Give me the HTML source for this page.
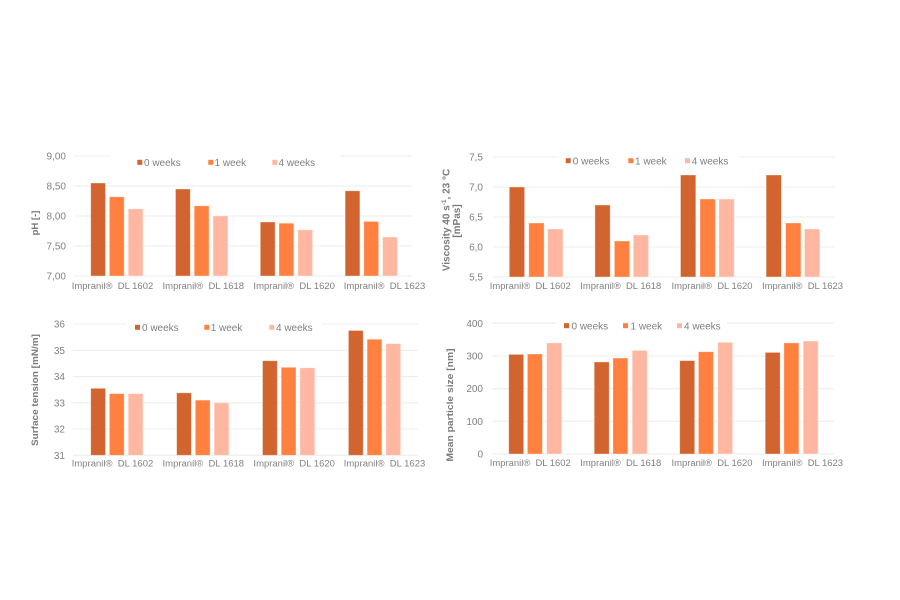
<!DOCTYPE html>
<html><head><meta charset="utf-8"><style>
html,body{margin:0;padding:0;background:#fff;}
svg{display:block;font-family:"Liberation Sans",Arial,sans-serif;}
.t{font-size:10px;fill:#808080;}
.x{font-size:9px;fill:#808080;}
.a{font-size:9.5px;fill:#7a7a7a;font-weight:bold;}
.g{stroke:#ececec;stroke-width:1;}
.d{fill:#D2652F;} .m{fill:#FF803F;} .l{fill:#FFB7A2;}
rect.b{stroke:#fff;stroke-opacity:.45;stroke-width:.8;}
</style></head><body>
<svg width="900" height="600" viewBox="0 0 900 600" xmlns="http://www.w3.org/2000/svg">
<rect width="900" height="600" fill="#fff"/>

<!-- ============ Chart 1: pH ============ -->
<g>
<line class="g" x1="74" y1="156" x2="412" y2="156"/>
<line class="g" x1="74" y1="186" x2="412" y2="186"/>
<line class="g" x1="74" y1="216" x2="412" y2="216"/>
<line class="g" x1="74" y1="246" x2="412" y2="246"/>
<line class="g" x1="74" y1="276" x2="412" y2="276"/>
<g class="t" text-anchor="end">
<text x="66" y="159.5">9,00</text><text x="66" y="189.5">8,50</text><text x="66" y="219.5">8,00</text><text x="66" y="249.5">7,50</text><text x="66" y="279.5">7,00</text>
</g>
<text class="a" transform="translate(38,223) rotate(-90)" text-anchor="middle">pH [-]</text>
<rect class="d b" x="90.7" y="183" width="14.8" height="93"/>
<rect class="m b" x="109.4" y="196.8" width="14.8" height="79.2"/>
<rect class="l b" x="128.2" y="208.8" width="14.8" height="67.2"/>
<rect class="d b" x="175.5" y="189" width="14.8" height="87"/>
<rect class="m b" x="194.2" y="205.8" width="14.8" height="70.2"/>
<rect class="l b" x="213" y="216" width="14.8" height="60"/>
<rect class="d b" x="260.3" y="222" width="14.8" height="54"/>
<rect class="m b" x="279" y="223.2" width="14.8" height="52.8"/>
<rect class="l b" x="297.8" y="229.8" width="14.8" height="46.2"/>
<rect class="d b" x="345.1" y="190.8" width="14.8" height="85.2"/>
<rect class="m b" x="363.8" y="221.4" width="14.8" height="54.6"/>
<rect class="l b" x="382.6" y="237" width="14.8" height="39"/>
<rect x="111" y="150" width="229" height="14" fill="#fff"/>
<rect class="d" x="137.3" y="159.8" width="5" height="5"/><text class="t" x="144" y="166">0 weeks</text>
<rect class="m" x="208.3" y="159.8" width="5" height="5"/><text class="t" x="214.5" y="166">1 week</text>
<rect class="l" x="272.3" y="159.8" width="5" height="5"/><text class="t" x="278.5" y="166">4 weeks</text>
<g class="x" text-anchor="middle">
<text x="112.5" y="288.8" textLength="81.5" lengthAdjust="spacingAndGlyphs">Impranil®&#160; DL 1602</text>
<text x="203.3" y="288.8" textLength="81.5" lengthAdjust="spacingAndGlyphs">Impranil®&#160; DL 1618</text>
<text x="294.2" y="288.8" textLength="81.5" lengthAdjust="spacingAndGlyphs">Impranil®&#160; DL 1620</text>
<text x="384.5" y="288.8" textLength="81.5" lengthAdjust="spacingAndGlyphs">Impranil®&#160; DL 1623</text>
</g>
</g>

<!-- ============ Chart 2: Viscosity ============ -->
<g>
<line class="g" x1="493" y1="157" x2="835" y2="157"/>
<line class="g" x1="493" y1="187" x2="835" y2="187"/>
<line class="g" x1="493" y1="217" x2="835" y2="217"/>
<line class="g" x1="493" y1="247" x2="835" y2="247"/>
<line class="g" x1="493" y1="277" x2="835" y2="277"/>
<g class="t" text-anchor="end">
<text x="483" y="160.5">7,5</text><text x="483" y="190.5">7,0</text><text x="483" y="220.5">6,5</text><text x="483" y="250.5">6,0</text><text x="483" y="280.5">5,5</text>
</g>
<text class="a" style="font-size:10px" transform="translate(449.5,220) rotate(-90)" text-anchor="middle">Viscosity 40 s<tspan font-size="6.5" dy="-3.5">-1</tspan><tspan dy="3.5">,&#160;23 °C</tspan></text>
<text class="a" style="font-size:10px" transform="translate(460,221) rotate(-90)" text-anchor="middle">[mPas]</text>
<rect class="d b" x="509.3" y="187" width="15.3" height="90"/>
<rect class="m b" x="528.8" y="223" width="15.3" height="54"/>
<rect class="l b" x="547.7" y="229" width="15.3" height="48"/>
<rect class="d b" x="594.9" y="205" width="15.3" height="72"/>
<rect class="m b" x="614.4" y="241" width="15.3" height="36"/>
<rect class="l b" x="633.3" y="235" width="15.3" height="42"/>
<rect class="d b" x="680.5" y="175" width="15.3" height="102"/>
<rect class="m b" x="700" y="199" width="15.3" height="78"/>
<rect class="l b" x="718.9" y="199" width="15.3" height="78"/>
<rect class="d b" x="766.1" y="175" width="15.3" height="102"/>
<rect class="m b" x="785.6" y="223" width="15.3" height="54"/>
<rect class="l b" x="804.5" y="229" width="15.3" height="48"/>
<rect x="557" y="150" width="182" height="13" fill="#fff"/>
<rect class="d" x="565.7" y="158.2" width="5" height="5"/><text class="t" x="572.8" y="164.4">0 weeks</text>
<rect class="m" x="628.3" y="158.2" width="5" height="5"/><text class="t" x="635" y="164.4">1 week</text>
<rect class="l" x="685" y="158.2" width="5" height="5"/><text class="t" x="691.7" y="164.4">4 weeks</text>
<g class="x" text-anchor="middle">
<text x="530.3" y="288.8" textLength="81" lengthAdjust="spacingAndGlyphs">Impranil®&#160; DL 1602</text>
<text x="620.8" y="288.8" textLength="81" lengthAdjust="spacingAndGlyphs">Impranil®&#160; DL 1618</text>
<text x="712" y="288.8" textLength="81" lengthAdjust="spacingAndGlyphs">Impranil®&#160; DL 1620</text>
<text x="802.5" y="288.8" textLength="81" lengthAdjust="spacingAndGlyphs">Impranil®&#160; DL 1623</text>
</g>
</g>

<!-- ============ Chart 3: Surface tension ============ -->
<g>
<line class="g" x1="73" y1="324" x2="418" y2="324"/>
<line class="g" x1="73" y1="350.3" x2="418" y2="350.3"/>
<line class="g" x1="73" y1="376.5" x2="418" y2="376.5"/>
<line class="g" x1="73" y1="402.8" x2="418" y2="402.8"/>
<line class="g" x1="73" y1="429" x2="418" y2="429"/>
<line class="g" x1="73" y1="455.3" x2="418" y2="455.3"/>
<g class="t" text-anchor="end">
<text x="65" y="327.5">36</text><text x="65" y="353.8">35</text><text x="65" y="380">34</text><text x="65" y="406.3">33</text><text x="65" y="432.5">32</text><text x="65" y="458.8">31</text>
</g>
<text class="a" transform="translate(38,390) rotate(-90)" text-anchor="middle" textLength="112" lengthAdjust="spacingAndGlyphs">Surface tension [mN/m]</text>
<rect class="d b" x="90.7" y="388.3" width="14.8" height="67"/>
<rect class="m b" x="109.4" y="393.6" width="14.8" height="61.7"/>
<rect class="l b" x="128.2" y="393.6" width="14.8" height="61.7"/>
<rect class="d b" x="176.6" y="392.8" width="14.8" height="62.5"/>
<rect class="m b" x="195.3" y="400.1" width="14.8" height="55.2"/>
<rect class="l b" x="214.1" y="402.8" width="14.8" height="52.5"/>
<rect class="d b" x="262.5" y="360.7" width="14.8" height="94.6"/>
<rect class="m b" x="281.2" y="367.3" width="14.8" height="88"/>
<rect class="l b" x="300" y="367.8" width="14.8" height="87.5"/>
<rect class="d b" x="348.4" y="330.5" width="14.8" height="124.8"/>
<rect class="m b" x="367.1" y="339.2" width="14.8" height="116.1"/>
<rect class="l b" x="385.9" y="343.6" width="14.8" height="111.7"/>
<rect x="126" y="318" width="196" height="14" fill="#fff"/>
<rect class="d" x="135" y="324.8" width="5" height="5"/><text class="t" x="142" y="331">0 weeks</text>
<rect class="m" x="204.3" y="324.8" width="5" height="5"/><text class="t" x="210.7" y="331">1 week</text>
<rect class="l" x="269.3" y="324.8" width="5" height="5"/><text class="t" x="276" y="331">4 weeks</text>
<g class="x" text-anchor="middle">
<text x="112.5" y="466.4" textLength="81.5" lengthAdjust="spacingAndGlyphs">Impranil®&#160; DL 1602</text>
<text x="203.3" y="466.4" textLength="81.5" lengthAdjust="spacingAndGlyphs">Impranil®&#160; DL 1618</text>
<text x="294.2" y="466.4" textLength="81.5" lengthAdjust="spacingAndGlyphs">Impranil®&#160; DL 1620</text>
<text x="384.5" y="466.4" textLength="81.5" lengthAdjust="spacingAndGlyphs">Impranil®&#160; DL 1623</text>
</g>
</g>

<!-- ============ Chart 4: Mean particle size ============ -->
<g>
<line class="g" x1="492" y1="323.3" x2="834" y2="323.3"/>
<line class="g" x1="492" y1="356" x2="834" y2="356"/>
<line class="g" x1="492" y1="388.7" x2="834" y2="388.7"/>
<line class="g" x1="492" y1="421.3" x2="834" y2="421.3"/>
<line class="g" x1="492" y1="454" x2="834" y2="454"/>
<g class="t" text-anchor="end">
<text x="483" y="326.8">400</text><text x="483" y="359.5">300</text><text x="483" y="392.2">200</text><text x="483" y="424.8">100</text><text x="483" y="457.5">0</text>
</g>
<text class="a" transform="translate(453,405) rotate(-90)" text-anchor="middle" textLength="113" lengthAdjust="spacingAndGlyphs">Mean particle size [nm]</text>
<rect class="d b" x="508.7" y="354.4" width="15" height="99.6"/>
<rect class="m b" x="527.4" y="354" width="15" height="100"/>
<rect class="l b" x="546.7" y="342.9" width="15" height="111.1"/>
<rect class="d b" x="594.2" y="361.9" width="15" height="92.1"/>
<rect class="m b" x="612.9" y="358" width="15" height="96"/>
<rect class="l b" x="632.2" y="350.4" width="15" height="103.6"/>
<rect class="d b" x="679.7" y="360.6" width="15" height="93.4"/>
<rect class="m b" x="698.4" y="351.7" width="15" height="102.3"/>
<rect class="l b" x="717.7" y="342.3" width="15" height="111.7"/>
<rect class="d b" x="765.2" y="352.4" width="15" height="101.6"/>
<rect class="m b" x="783.9" y="342.9" width="15" height="111.1"/>
<rect class="l b" x="803.2" y="341" width="15" height="113"/>
<rect x="556" y="317" width="171" height="14" fill="#fff"/>
<rect class="d" x="564" y="323.2" width="5" height="5"/><text class="t" x="571.5" y="329.4">0 weeks</text>
<rect class="m" x="623" y="323.2" width="5" height="5"/><text class="t" x="630.5" y="329.4">1 week</text>
<rect class="l" x="677" y="323.2" width="5" height="5"/><text class="t" x="684" y="329.4">4 weeks</text>
<g class="x" text-anchor="middle">
<text x="530.3" y="465.8" textLength="81" lengthAdjust="spacingAndGlyphs">Impranil®&#160; DL 1602</text>
<text x="620.8" y="465.8" textLength="81" lengthAdjust="spacingAndGlyphs">Impranil®&#160; DL 1618</text>
<text x="712" y="465.8" textLength="81" lengthAdjust="spacingAndGlyphs">Impranil®&#160; DL 1620</text>
<text x="802.5" y="465.8" textLength="81" lengthAdjust="spacingAndGlyphs">Impranil®&#160; DL 1623</text>
</g>
</g>
</svg>
</body></html>
